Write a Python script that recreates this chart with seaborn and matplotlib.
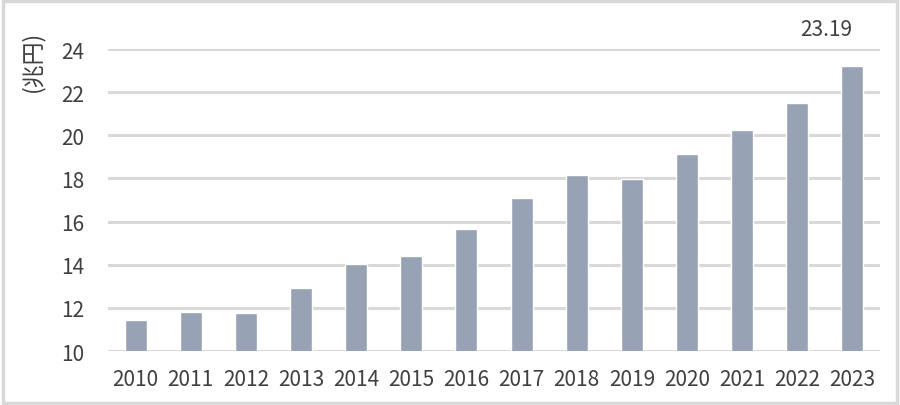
import matplotlib
matplotlib.use("Agg")
import matplotlib.pyplot as plt
import seaborn as sns
import pandas as pd
from matplotlib.patches import Rectangle

years = ["2010", "2011", "2012", "2013", "2014", "2015", "2016",
         "2017", "2018", "2019", "2020", "2021", "2022", "2023"]
values = [11.42, 11.81, 11.78, 12.93, 14.03, 14.40, 15.66,
          17.09, 18.17, 17.97, 19.15, 20.25, 21.48, 23.19]
yticks = [10, 12, 14, 16, 18, 20, 22, 24]
unit_label = "(兆円)"
value_label = "23.19"

sns.set_theme(style="white")
plt.rcParams['font.family'] = ['Noto Sans CJK JP', 'DejaVu Sans']

df = pd.DataFrame({"year": years, "value": values})

fig = plt.figure(figsize=(9, 4.06), dpi=100)
ax = fig.add_axes([0.12, 0.133, 0.8578, 0.7438])

sns.barplot(data=df, x="year", y="value", color="#97A3B4", saturation=1,
            width=0.4, ax=ax, zorder=3)

ax.set_ylim(10, 24)
ax.set_yticks(yticks)
ax.set_xlim(-0.5, len(years) - 0.5)
ax.yaxis.grid(True, color="#d9d9d9", linewidth=2.2, zorder=0)
ax.xaxis.grid(False)
for s in ax.spines.values():
    s.set_visible(False)
ax.set_xlabel("")
ax.set_ylabel("")
ax.tick_params(axis="both", length=0, labelsize=15, labelcolor="#404040")
ax.tick_params(axis="y", pad=17)
ax.tick_params(axis="x", pad=12)

ax.annotate(value_label, xy=(len(years) - 1, values[-1]), xytext=(-18.5, 27),
            textcoords="offset points", ha="center", va="center",
            fontsize=15, color="#404040")

fig.text(0.036, 0.85, unit_label, rotation=90, ha="center", va="center",
         fontsize=16.5, color="#404040")

fig.patches.append(Rectangle((0.003, 0.005), 0.994, 0.99, transform=fig.transFigure,
                             fill=False, edgecolor="#d9d9d9", linewidth=2.5))

fig.savefig("out.png", dpi=100)
